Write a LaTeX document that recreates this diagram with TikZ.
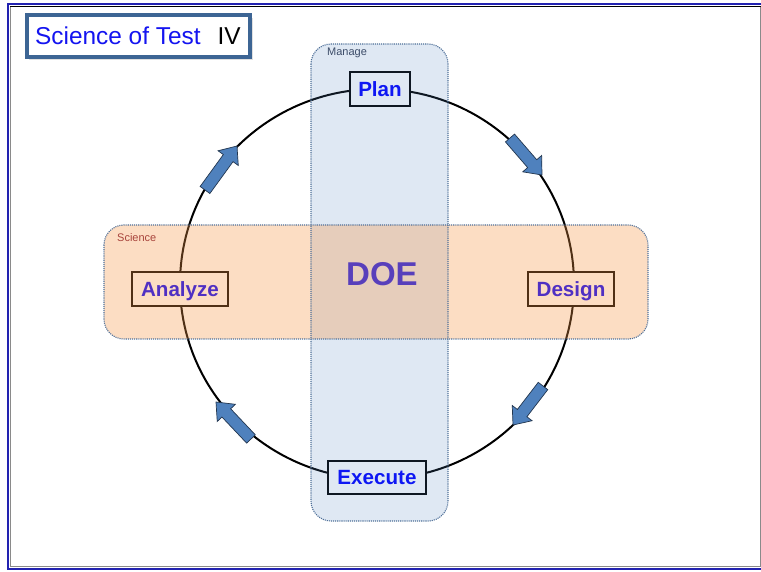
\documentclass[tikz,border=0pt]{standalone}
\usepackage{fontspec}
\setmainfont{Liberation Sans}
\usetikzlibrary{calc}

\definecolor{frameblue}{HTML}{2222B0}
\definecolor{framegray}{HTML}{8A8A8A}
\definecolor{titleedge}{HTML}{3D6594}
\definecolor{titleblue}{HTML}{1414F0}
\definecolor{stageblue}{HTML}{0000FF}
\definecolor{managefill}{HTML}{4F81BD}
\definecolor{sciencefill}{HTML}{F79646}
\definecolor{bandedge}{HTML}{4E6F98}
\definecolor{managetext}{HTML}{3C4C68}
\definecolor{sciencetext}{HTML}{A8443C}
\definecolor{arrowfill}{HTML}{4F81BD}
\definecolor{arrowedge}{HTML}{22364F}

\tikzset{
  stage/.style={draw=black, fill=white, line width=2.3pt, inner sep=0pt,
    minimum height=34pt, text height=14.8pt, text depth=0pt,
    text=stageblue, font=\fontsize{20.6}{24}\selectfont\bfseries},
  bandedge/.style={draw=bandedge, line width=1.1pt, densely dotted,
    rounded corners=20pt},
  ring/.style={draw=black, line width=2pt},
  blk/.style={draw=arrowedge, fill=arrowfill, line width=0.7pt, line join=miter},
  bandlabel/.style={anchor=west, inner sep=0pt, font=\fontsize{11}{13}\selectfont}
}

% block arrow from tail #1 to tip #2
\newcommand\blockarrow[2]{%
  \coordinate (neck) at ($(#2)!15pt!(#1)$);
  \draw[blk] ($(#1)!6pt!90:(#2)$) -- ($(neck)!6pt!-90:(#1)$)
    -- ($(neck)!12.5pt!-90:(#1)$) -- (#2)
    -- ($(neck)!12.5pt!90:(#1)$) -- ($(neck)!6pt!90:(#1)$)
    -- ($(#1)!6pt!-90:(#2)$) -- cycle;
}

\begin{document}
\begin{tikzpicture}[x=1pt,y=-1pt]
\useasboundingbox (0,0) rectangle (761,572);
\fill[white] (0,0) rectangle (761,572);

% page frame
\draw[framegray, line width=0.9pt] (10.5,6.5) -- (10.5,566.5) -- (760,566.5) -- (760,6.5);
\draw[black, line width=0.9pt] (10,6.5) -- (761,6.5);
\draw[frameblue, line width=2.2pt] (761,4.3) -- (8.2,4.3) -- (8.2,568.6) -- (761,568.6);

% cycle
\coordinate (centre) at (377,284);
\draw[ring] (centre) ellipse [x radius=197pt, y radius=195pt];

% arrows along the cycle
\coordinate (urT) at (510,138);  \coordinate (urH) at (542,175);
\coordinate (lrT) at (543,386);  \coordinate (lrH) at (513,425);
\coordinate (llT) at (251,439);  \coordinate (llH) at (216,402);
\coordinate (ulT) at (205,190);  \coordinate (ulH) at (237,146);
\blockarrow{urT}{urH}
\blockarrow{lrT}{lrH}
\blockarrow{llT}{llH}
\blockarrow{ulT}{ulH}

% stages
\node[stage, minimum width=60pt] (plan) at (380,89) {Plan};
\node[stage, minimum width=86pt] (design) at (571,289) {Design};
\node[stage, minimum width=98pt, minimum height=33pt] (execute) at (377,477.5) {Execute};
\node[stage, minimum width=96pt] (analyze) at (180,289) {Analyze};
\node[inner sep=0pt, text height=23.5pt, text depth=0pt, text=stageblue,
  font=\fontsize{33}{37}\selectfont\bfseries] (doe) at (382,274) {DOE};

% translucent bands
\fill[managefill, fill opacity=0.18, rounded corners=20pt] (311,44) rectangle (448,521);
\fill[sciencefill, fill opacity=0.32, rounded corners=20pt] (104,225) rectangle (648,339);
\draw[bandedge] (311,44) rectangle (448,521);
\draw[bandedge] (104,225) rectangle (648,339);
\node[bandlabel, text=managetext] (manage) at (327,52.5) {Manage};
\node[bandlabel, text=sciencetext] (science) at (117,237.5) {Science};

% title
\fill[black, opacity=0.12] (29,18) rectangle (253,60.5);
\fill[black, opacity=0.12] (28,17) rectangle (252,59.5);
\node[draw=titleedge, fill=white, line width=3.2pt, inner sep=0pt,
  minimum width=223pt, minimum height=42pt] (title) at (138.5,36) {};
\node[anchor=base west, inner sep=0pt, font=\fontsize{24.4}{28}\selectfont,
  text=titleblue] (titletext) at (35,45) {Science of Test\hspace{17pt}\textcolor{black}{IV}};
\end{tikzpicture}
\end{document}
